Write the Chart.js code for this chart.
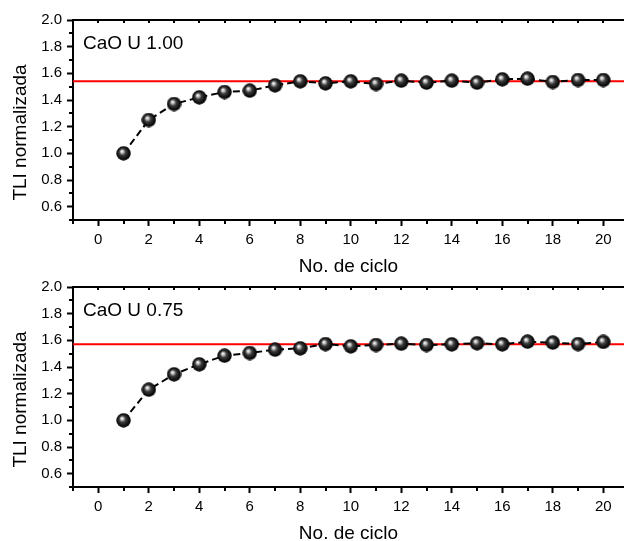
<!DOCTYPE html>
<html>
<head>
<meta charset="utf-8">
<script src="https://cdn.jsdelivr.net/npm/chart.js@4.4.1/dist/chart.umd.min.js"></script>
<style>
  html, body { margin: 0; padding: 0; background: #fff; overflow: hidden; }
  body { width: 624px; height: 541px; position: relative; }
  canvas { position: absolute; left: 0; }
  #chartTop { top: 0; }
  #chartBottom { top: 267px; }
</style>
</head>
<body>
<canvas id="chartTop" width="624" height="278"></canvas>
<canvas id="chartBottom" width="624" height="278"></canvas>
<script>
// ---- data ----
const cycles = [1, 2, 3, 4, 5, 6, 7, 8, 9, 10, 11, 12, 13, 14, 15, 16, 17, 18, 19, 20];
const tliU100 = [1.00, 1.25, 1.37, 1.42, 1.46, 1.47, 1.51, 1.54, 1.525, 1.54, 1.52, 1.545, 1.53, 1.545, 1.53, 1.555, 1.56, 1.535, 1.55, 1.55];
const tliU075 = [1.00, 1.23, 1.345, 1.42, 1.485, 1.505, 1.53, 1.54, 1.572, 1.555, 1.565, 1.575, 1.565, 1.57, 1.578, 1.57, 1.59, 1.583, 1.572, 1.588];
const plateauU100 = 1.54;
const plateauU075 = 1.57;
const labelU100 = "CaO U 1.00";
const labelU075 = "CaO U 0.75";

const xMajorTicks = [0, 2, 4, 6, 8, 10, 12, 14, 16, 18, 20];
const xMinorTicks = [-1, 1, 3, 5, 7, 9, 11, 13, 15, 17, 19];
const yMajorTicks = [0.6, 0.8, 1.0, 1.2, 1.4, 1.6, 1.8, 2.0];
const yMinorTicks = [0.5, 0.7, 0.9, 1.1, 1.3, 1.5, 1.7, 1.9];
const xRange = [-1, 20.82];   // figure is cropped on the right
const yRange = [0.5, 2.0];
const xTitle = "No. de ciclo";
const yTitle = "TLI normalizada";

const FONT = "'Liberation Sans', Arial, sans-serif";

// shiny black ball used as point style
function makeSphere(d) {
  const c = document.createElement("canvas");
  c.width = c.height = d;
  const g = c.getContext("2d");
  const r = d / 2;
  const grad = g.createRadialGradient(r - 1.8, r - 2.2, 0.2, r, r, r);
  grad.addColorStop(0, "#ffffff");
  grad.addColorStop(0.16, "#c8c8c8");
  grad.addColorStop(0.42, "#3c3c3c");
  grad.addColorStop(0.8, "#0c0c0c");
  grad.addColorStop(1, "#000000");
  g.fillStyle = grad;
  g.beginPath();
  g.arc(r, r, r - 0.3, 0, Math.PI * 2);
  g.fill();
  return c;
}
const sphere = makeSphere(15);

// top border, minor ticks, panel label and y title
const framePlugin = {
  id: "frame",
  afterDraw(chart, args, opts) {
    const { ctx, chartArea: a, scales: { x, y } } = chart;
    ctx.save();
    ctx.strokeStyle = "#000";
    ctx.lineWidth = 2;
    ctx.beginPath();
    ctx.moveTo(a.left - 1, a.top);
    ctx.lineTo(a.right, a.top);
    ctx.stroke();

    ctx.beginPath();
    for (const v of xMinorTicks) {
      const px = Math.round(x.getPixelForValue(v));
      ctx.moveTo(px, a.bottom);
      ctx.lineTo(px, a.bottom + 4);
    }
    for (const v of xMinorTicks.concat(xMajorTicks)) {
      const px = Math.round(x.getPixelForValue(v));
      ctx.moveTo(px, a.top);
      ctx.lineTo(px, a.top + 3);
    }
    for (const v of yMinorTicks) {
      const py = Math.round(y.getPixelForValue(v));
      ctx.moveTo(a.left, py);
      ctx.lineTo(a.left - 4, py);
    }
    ctx.stroke();

    ctx.fillStyle = "#000";
    ctx.font = "19px " + FONT;
    ctx.textAlign = "left";
    ctx.textBaseline = "alphabetic";
    ctx.fillText(opts.label, a.left + 10, a.top + 29);

    ctx.translate(26, a.top + 112.5);
    ctx.rotate(-Math.PI / 2);
    ctx.textAlign = "center";
    ctx.fillText(yTitle, 0, 0);
    ctx.restore();
  }
};

function drawPanel(canvasId, values, plateau, label) {
  const canvas = document.getElementById(canvasId);
  return new Chart(canvas.getContext("2d"), {
    type: "line",
    data: {
      datasets: [
        {
          label: label,
          data: cycles.map((c, i) => ({ x: c, y: values[i] })),
          borderColor: "#000",
          borderWidth: 2,
          borderDash: [7, 4],
          pointStyle: sphere,
          pointRadius: 7,
          order: 1
        },
        {
          label: "plateau",
          data: [{ x: xRange[0], y: plateau }, { x: xRange[1], y: plateau }],
          borderColor: "#ff0000",
          borderWidth: 2,
          pointRadius: 0,
          order: 2
        }
      ]
    },
    options: {
      responsive: false,
      animation: false,
      events: [],
      devicePixelRatio: 1,
      layout: { autoPadding: false, padding: { top: 20, right: 0, bottom: 0, left: 0 } },
      plugins: {
        legend: { display: false },
        tooltip: { enabled: false },
        frame: { label: label }
      },
      scales: {
        x: {
          type: "linear",
          min: xRange[0],
          max: xRange[1],
          afterBuildTicks: (s) => { s.ticks = xMajorTicks.map(v => ({ value: v })); },
          afterFit: (s) => { s.height = 58; s.paddingLeft = 0; s.paddingRight = 0; },
          ticks: {
            color: "#000",
            padding: 5,
            maxRotation: 0,
            font: { family: FONT, size: 15 },
            callback: (v) => String(v)
          },
          grid: { drawOnChartArea: false, tickLength: 6, tickWidth: 2, tickColor: "#000" },
          border: { color: "#000", width: 2 },
          title: {
            display: true,
            text: xTitle,
            color: "#000",
            padding: { top: 0, bottom: 0 },
            font: { family: FONT, size: 19 }
          }
        },
        y: {
          min: yRange[0],
          max: yRange[1],
          afterBuildTicks: (s) => { s.ticks = yMajorTicks.map(v => ({ value: v })); },
          afterFit: (s) => { s.width = 73; s.paddingTop = 0; s.paddingBottom = 0; },
          ticks: {
            color: "#000",
            padding: 5,
            font: { family: FONT, size: 15 },
            callback: (v) => Number(v).toFixed(1)
          },
          grid: { drawOnChartArea: false, tickLength: 6, tickWidth: 2, tickColor: "#000" },
          border: { color: "#000", width: 2 }
        }
      }
    },
    plugins: [framePlugin]
  });
}

drawPanel("chartTop", tliU100, plateauU100, labelU100);
drawPanel("chartBottom", tliU075, plateauU075, labelU075);
</script>
</body>
</html>
